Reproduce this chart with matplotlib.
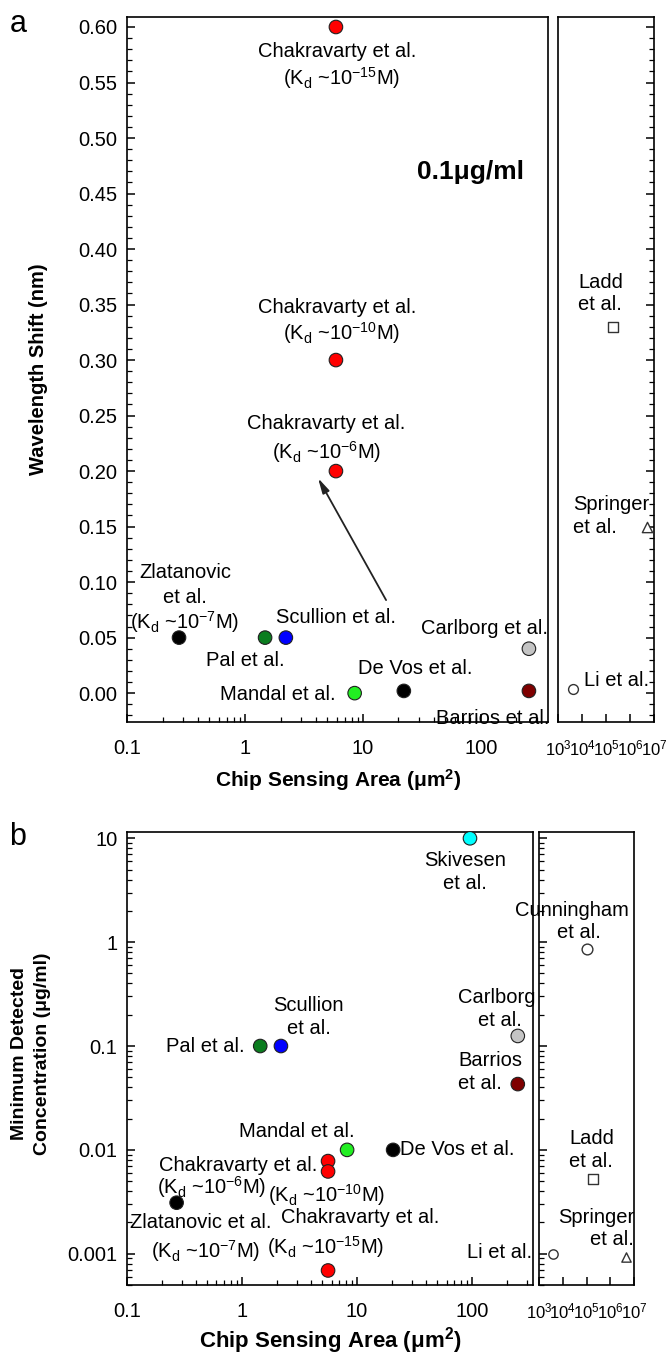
import matplotlib
matplotlib.use('Agg')
import matplotlib.pyplot as plt
from matplotlib.ticker import (LogLocator, NullLocator, MultipleLocator, FixedLocator,
                               FuncFormatter, NullFormatter, LogFormatterMathtext)

plt.rcParams['font.family'] = ['Liberation Sans', 'DejaVu Sans']
plt.rcParams['mathtext.fontset'] = 'custom'
plt.rcParams['mathtext.rm'] = 'Liberation Sans'
plt.rcParams['mathtext.it'] = 'Liberation Sans:italic'
plt.rcParams['mathtext.bf'] = 'Liberation Sans:bold'
plt.rcParams['mathtext.default'] = 'regular'

# ---------------- data: panel a (wavelength shift at 0.1 ug/ml) ----------------
a_main_names = ['Chakravarty (Kd~1e-15M)', 'Chakravarty (Kd~1e-10M)', 'Chakravarty (Kd~1e-6M)',
                'Zlatanovic', 'Pal', 'Scullion', 'Mandal', 'De Vos', 'Carlborg', 'Barrios']
a_main_area = [5.9, 5.9, 5.9, 0.276, 1.48, 2.22, 8.5, 22.2, 255, 255]
a_main_shift = [0.60, 0.30, 0.20, 0.05, 0.05, 0.05, 0.0, 0.002, 0.04, 0.002]
a_main_colors = ['#ff0000', '#ff0000', '#ff0000', '#000000', '#0b7d1f', '#0000ff',
                 '#22ee22', '#000000', '#c4c4c4', '#7f0000']

a_large_names = ['Ladd', 'Springer', 'Li']
a_large_area = [2.0e5, 5.0e6, 4.2e3]
a_large_shift = [0.33, 0.15, 0.004]
a_large_markers = ['s', '^', 'o']

# ---------------- data: panel b (minimum detected concentration) ----------------
b_main_names = ['Skivesen', 'Carlborg', 'Barrios', 'Pal', 'Scullion', 'Mandal', 'De Vos',
                'Chakravarty (Kd~1e-6M)', 'Chakravarty (Kd~1e-10M)', 'Chakravarty (Kd~1e-15M)',
                'Zlatanovic']
b_main_area = [96, 250, 250, 1.44, 2.18, 8.2, 20.6, 5.6, 5.6, 5.6, 0.27]
b_main_conc = [10, 0.125, 0.043, 0.1, 0.1, 0.01, 0.01, 0.0078, 0.0062, 0.00069, 0.0031]
b_main_colors = ['#00ffff', '#c4c4c4', '#7f0000', '#0b7d1f', '#0000ff', '#22ee22',
                 '#000000', '#ff0000', '#ff0000', '#ff0000', '#000000']

b_large_names = ['Cunningham', 'Ladd', 'Li', 'Springer']
b_large_area = [1.1e5, 1.8e5, 4.0e3, 4.6e6]
b_large_conc = [0.85, 0.0053, 0.001, 0.00093]
b_large_markers = ['o', 's', 'o', '^']

main_xticks = [0.1, 1, 10, 100]
large_xticks = [1e3, 1e4, 1e5, 1e6, 1e7]
a_yticks_step = 0.05
b_yticks = [0.001, 0.01, 0.1, 1, 10]

W, H = 666, 1356
fig = plt.figure(figsize=(W / 100, H / 100), dpi=100)


def rect(l, r, t, b):
    return [l / W, 1 - b / H, (r - l) / W, (b - t) / H]


FS = 14.5
TFS = 14.5
LW = 1.2


def style(ax):
    for s in ax.spines.values():
        s.set_linewidth(LW)
    ax.tick_params(which='major', direction='in', length=6, width=1.1, labelsize=TFS)
    ax.tick_params(which='minor', direction='in', length=3.5, width=0.9)
    ax.tick_params(axis='x', which='both', pad=12, top=False)
    ax.tick_params(axis='y', which='both', pad=7)


plain = FuncFormatter(lambda v, p: f'{v:g}')

# ================= panel a =================
axA = fig.add_axes(rect(127, 548, 17, 722))
axA2 = fig.add_axes(rect(558, 654, 17, 722))
ylimA = (-0.026, 0.609)
for ax in (axA, axA2):
    style(ax)
    ax.set_ylim(*ylimA)
    ax.yaxis.set_major_locator(MultipleLocator(a_yticks_step))
    ax.yaxis.set_minor_locator(MultipleLocator(0.01))
    ax.set_xscale('log')

axA.set_xlim(0.1, 370)
axA.xaxis.set_major_locator(FixedLocator(main_xticks))
axA.xaxis.set_major_formatter(plain)
axA.xaxis.set_minor_locator(LogLocator(base=10, subs=range(2, 10)))
axA.xaxis.set_minor_formatter(NullFormatter())
axA.yaxis.set_major_formatter(FuncFormatter(lambda v, p: f'{abs(v) if abs(v) < 1e-9 else v:.2f}'))
axA.tick_params(axis='y', which='both', right=False)

axA.scatter(a_main_area, a_main_shift, s=95, c=a_main_colors, edgecolors='#202020',
            linewidths=0.8, zorder=5, clip_on=False)

axA2.set_xlim(1e3, 1e7)
axA2.xaxis.set_major_locator(FixedLocator(large_xticks))
axA2.xaxis.set_major_formatter(LogFormatterMathtext())
axA2.xaxis.set_minor_locator(NullLocator())
axA2.tick_params(axis='x', labelsize=12)
axA2.tick_params(axis='y', which='both', left=False, right=True, labelleft=False)
for xx, yy, m in zip(a_large_area, a_large_shift, a_large_markers):
    axA2.scatter([xx], [yy], s=55 if m != 'o' else 50, marker=m, facecolors='white',
                 edgecolors='#333333', linewidths=1.0, zorder=5, clip_on=False)


def kd(exp):
    return r'(K$_\mathregular{d}$ ~10$^\mathregular{' + exp + r'}$M)'


txt_a = [
    ('Chakravarty et al.', 6.1, 0.5775, 'center'),
    (kd('-15'), 6.6, 0.554, 'center'),
    ('Chakravarty et al.', 6.1, 0.3477, 'center'),
    (kd('-10'), 6.6, 0.324, 'center'),
    ('Chakravarty et al.', 4.85, 0.243, 'center'),
    (kd('-6'), 4.9, 0.217, 'center'),
    ('Zlatanovic', 0.31, 0.109, 'center'),
    ('et al.', 0.31, 0.0865, 'center'),
    (kd('-7'), 0.31, 0.064, 'center'),
    ('Scullion et al.', 1.83, 0.0685, 'left'),
    ('Pal et al.', 1.0, 0.0297, 'center'),
    ('Mandal et al.', 5.9, -0.001, 'right'),
    ('De Vos et al.', 27.5, 0.0225, 'center'),
    ('Carlborg et al.', 372, 0.0586, 'right'),
    ('Barrios et al.', 378, -0.0225, 'right'),
]
for s, x, y, ha in txt_a:
    axA.text(x, y, s, ha=ha, va='center', fontsize=FS, zorder=6, clip_on=False)
axA.text(82, 0.469, '0.1μg/ml', ha='center', va='center', fontsize=19, fontweight='bold')
axA.annotate('', xy=(4.16, 0.1937), xytext=(15.7, 0.0838),
             arrowprops=dict(arrowstyle='-|>,head_length=0.9,head_width=0.22',
                             color='#222222', lw=1.3, shrinkA=0, shrinkB=0))

txt_a2 = [
    ('Ladd', 6.8e3, 0.370, 'left'),
    ('et al.', 6.8e3, 0.350, 'left'),
    ('Springer', 4.2e3, 0.170, 'left'),
    ('et al.', 4.2e3, 0.149, 'left'),
    ('Li et al.', 1.2e4, 0.0117, 'left'),
]
for s, x, y, ha in txt_a2:
    axA2.text(x, y, s, ha=ha, va='center', fontsize=FS, clip_on=False, zorder=6)

# ================= panel b =================
axB = fig.add_axes(rect(127, 533, 832, 1285))
axB2 = fig.add_axes(rect(539, 634, 832, 1285))
ylimB = (5.0e-4, 11.5)
for ax in (axB, axB2):
    style(ax)
    ax.set_xscale('log')
    ax.set_yscale('log')
    ax.set_ylim(*ylimB)
    ax.yaxis.set_major_locator(FixedLocator(b_yticks))
    ax.yaxis.set_minor_locator(LogLocator(base=10, subs=range(2, 10)))
    ax.yaxis.set_minor_formatter(NullFormatter())

axB.set_xlim(0.1, 339)
axB.xaxis.set_major_locator(FixedLocator(main_xticks))
axB.xaxis.set_major_formatter(plain)
axB.xaxis.set_minor_locator(LogLocator(base=10, subs=range(2, 10)))
axB.xaxis.set_minor_formatter(NullFormatter())
axB.yaxis.set_major_formatter(plain)
axB.tick_params(axis='y', which='both', right=False)
axB.scatter(b_main_area, b_main_conc, s=95, c=b_main_colors, edgecolors='#202020',
            linewidths=0.8, zorder=5, clip_on=False)

axB2.set_xlim(1e3, 1e7)
axB2.xaxis.set_major_locator(FixedLocator(large_xticks))
axB2.xaxis.set_major_formatter(LogFormatterMathtext())
axB2.xaxis.set_minor_locator(NullLocator())
axB2.tick_params(axis='x', labelsize=12)
axB2.tick_params(axis='y', which='both', left=True, right=False, labelleft=False)
for xx, yy, m in zip(b_large_area, b_large_conc, b_large_markers):
    sz = 60 if xx == b_large_area[0] else 45
    axB2.scatter([xx], [yy], s=sz, marker=m, facecolors='white',
                 edgecolors='#333333', linewidths=1.0, zorder=5, clip_on=False)

txt_b = [
    ('Skivesen', 87, 6.14, 'center'),
    ('et al.', 87, 3.69, 'center'),
    ('Carlborg', 165, 0.296, 'center'),
    ('et al.', 175, 0.178, 'center'),
    ('Barrios', 75.5, 0.0733, 'left'),
    ('et al.', 75.5, 0.044, 'left'),
    ('Scullion', 3.75, 0.248, 'center'),
    ('et al.', 3.85, 0.149, 'center'),
    ('Pal et al.', 1.06, 0.1, 'right'),
    ('Mandal et al.', 3.0, 0.0149, 'center'),
    ('De Vos et al.', 23.6, 0.01, 'left'),
    ('Chakravarty et al.', 0.92, 0.00702, 'center'),
    (kd('-6'), 0.548, 0.0044, 'center'),
    (kd('-10'), 5.48, 0.00369, 'center'),
    ('Zlatanovic et al.', 0.44, 0.00199, 'center'),
    (kd('-7'), 0.486, 0.00105, 'center'),
    ('Chakravarty et al.', 10.6, 0.00222, 'center'),
    (kd('-15'), 5.37, 0.00117, 'center'),
    ('Li et al.', 336, 0.00102, 'right'),
]
for s, x, y, ha in txt_b:
    axB.text(x, y, s, ha=ha, va='center', fontsize=FS, zorder=6, clip_on=False)

txt_b2 = [
    ('Cunningham', 2.5e4, 2.03, 'center'),
    ('et al.', 4.6e4, 1.25, 'center'),
    ('Ladd', 1.6e5, 0.0128, 'center'),
    ('et al.', 1.6e5, 0.00767, 'center'),
    ('Springer', 1.0e7, 0.00222, 'right'),
    ('et al.', 0.95e7, 0.00136, 'right'),
]
for s, x, y, ha in txt_b2:
    axB2.text(x, y, s, ha=ha, va='center', fontsize=FS, zorder=6, clip_on=False)


# ================= figure labels =================
def ftext(px, py, s, **kw):
    fig.text(px / W, 1 - py / H, s, **kw)


ftext(18, 24, 'a', fontsize=22, ha='center', va='center')
ftext(18, 837, 'b', fontsize=22, ha='center', va='center')
ftext(39, 369, 'Wavelength Shift (nm)', fontsize=14.5, fontweight='bold',
      rotation=90, ha='center', va='center')
ftext(338, 780, r'Chip Sensing Area (μm$^\mathbf{2}$)', fontsize=15, fontweight='bold',
      ha='center', va='center')
ftext(31, 1054, 'Minimum Detected\nConcentration (μg/ml)', fontsize=14, fontweight='bold',
      rotation=90, ha='center', va='center', multialignment='center', linespacing=1.4)
ftext(330, 1341, r'Chip Sensing Area (μm$^\mathbf{2}$)', fontsize=16, fontweight='bold',
      ha='center', va='center')

fig.savefig('out.png', dpi=100, facecolor='white')
